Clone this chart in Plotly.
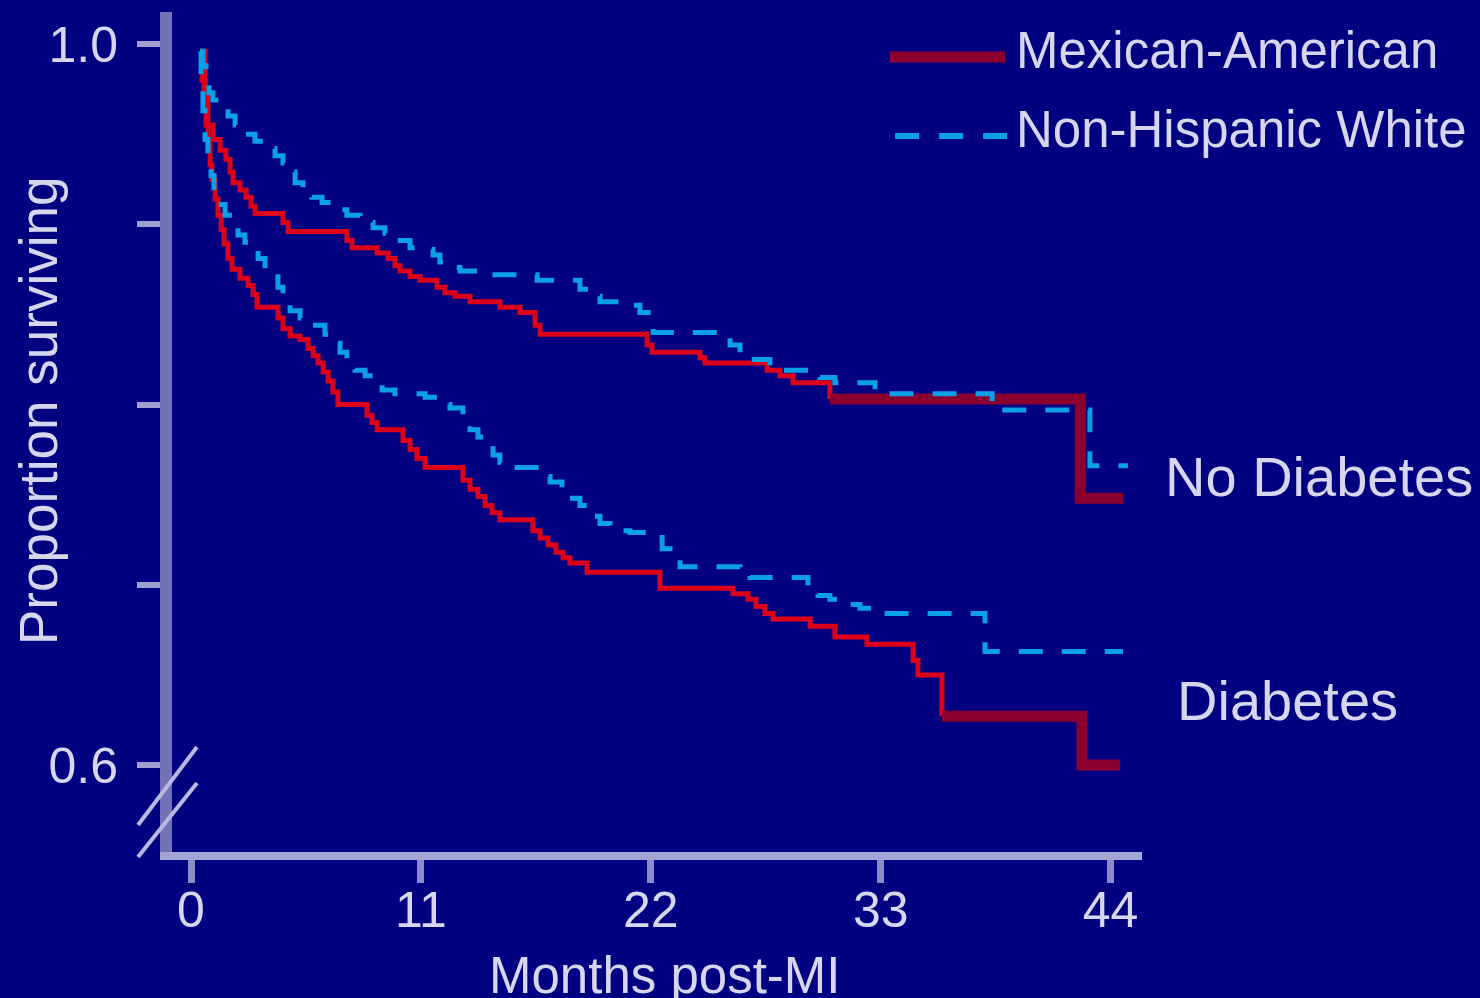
import plotly.graph_objects as go

# ---------------- data (months post-MI, proportion surviving) ----------------
ma_nodm_month = [0.43, 0.67, 0.81, 1.05, 1.39, 1.67, 1.87, 2.01, 2.34, 2.63, 2.87, 3.06,
                 4.40, 4.64, 7.46, 7.70, 8.90, 9.43, 9.76, 10.00, 10.48, 10.96, 11.77,
                 12.15, 12.63, 13.35, 14.78, 15.74, 16.46, 16.70, 21.82, 22.06, 24.35,
                 24.59, 27.56, 28.18, 28.80, 30.57, 42.54, 44.59]
ma_nodm_surv = [0.996, 0.975, 0.955, 0.947, 0.941, 0.936, 0.929, 0.923, 0.919, 0.915, 0.910,
                0.906, 0.901, 0.896, 0.891, 0.887, 0.884, 0.881, 0.877, 0.874, 0.871, 0.869,
                0.865, 0.862, 0.860, 0.857, 0.854, 0.851, 0.844, 0.839, 0.833, 0.829, 0.826,
                0.823, 0.819, 0.816, 0.812, 0.803, 0.748, 0.748]

nhw_nodm_month = [0.43, 0.57, 0.72, 0.86, 1.05, 1.39, 1.77, 2.11, 2.58, 3.06, 3.54, 4.02,
                  4.40, 4.64, 4.98, 5.36, 5.79, 6.27, 6.79, 7.46, 8.09, 8.71, 9.28, 9.86,
                  10.48, 11.29, 11.58, 11.91, 12.25, 12.87, 13.97, 16.56, 18.61, 19.09,
                  19.57, 20.53, 21.48, 22.11, 25.79, 26.27, 26.75, 27.70, 30.10, 30.81,
                  32.73, 38.33, 43.01, 44.83]
nhw_nodm_surv = [0.996, 0.988, 0.980, 0.973, 0.969, 0.965, 0.960, 0.955, 0.950, 0.946, 0.942,
                 0.938, 0.934, 0.929, 0.923, 0.918, 0.915, 0.912, 0.908, 0.905, 0.901, 0.898,
                 0.895, 0.891, 0.887, 0.886, 0.883, 0.879, 0.876, 0.874, 0.872, 0.869, 0.864,
                 0.860, 0.857, 0.855, 0.851, 0.840, 0.833, 0.829, 0.825, 0.819, 0.815, 0.812,
                 0.806, 0.797, 0.766, 0.766]

ma_dm_month = [0.43, 0.53, 0.62, 0.72, 0.81, 0.91, 1.00, 1.15, 1.29, 1.44, 1.58, 1.77, 1.96,
               2.34, 2.73, 2.97, 3.16, 4.16, 4.40, 4.74, 5.22, 5.60, 5.84, 6.08, 6.32, 6.56,
               6.79, 7.03, 8.42, 8.66, 8.90, 10.14, 10.48, 10.81, 11.20, 13.01, 13.35, 13.73,
               14.07, 14.40, 14.78, 16.36, 16.70, 17.08, 17.46, 17.80, 18.13, 18.95, 22.44,
               25.93, 26.65, 27.03, 27.46, 27.85, 29.62, 30.81, 32.34, 34.55, 34.78, 35.93,
               42.63, 44.45]
ma_dm_surv = [0.994, 0.980, 0.966, 0.955, 0.944, 0.933, 0.925, 0.914, 0.905, 0.897, 0.889,
              0.881, 0.875, 0.870, 0.866, 0.861, 0.854, 0.848, 0.842, 0.838, 0.836, 0.831,
              0.827, 0.823, 0.818, 0.813, 0.807, 0.800, 0.794, 0.790, 0.786, 0.780, 0.775,
              0.770, 0.765, 0.758, 0.753, 0.749, 0.744, 0.740, 0.736, 0.730, 0.726, 0.722,
              0.718, 0.715, 0.712, 0.707, 0.698, 0.695, 0.692, 0.688, 0.684, 0.681, 0.677,
              0.671, 0.667, 0.658, 0.650, 0.627, 0.600, 0.600]

nhw_dm_month = [0.43, 0.48, 0.57, 0.67, 0.81, 0.96, 1.10, 1.29, 1.63, 1.96, 2.25, 2.58, 2.92,
                3.21, 3.54, 3.88, 4.16, 4.40, 4.74, 5.22, 5.79, 6.41, 6.79, 7.13, 7.46, 7.85,
                8.33, 8.80, 9.14, 9.76, 11.20, 11.91, 12.39, 13.01, 13.35, 13.73, 14.07,
                14.45, 14.78, 15.26, 16.70, 17.18, 17.75, 18.13, 18.61, 19.23, 19.57, 20.05,
                21.00, 22.54, 22.92, 23.40, 26.27, 26.75, 29.52, 30.00, 30.57, 31.39, 32.01,
                32.58, 37.99, 44.59]
nhw_dm_surv = [0.996, 0.980, 0.963, 0.947, 0.938, 0.927, 0.918, 0.911, 0.905, 0.900, 0.894,
               0.890, 0.886, 0.881, 0.877, 0.873, 0.865, 0.860, 0.852, 0.848, 0.844, 0.839,
               0.834, 0.829, 0.824, 0.819, 0.816, 0.813, 0.808, 0.806, 0.804, 0.800, 0.798,
               0.790, 0.786, 0.782, 0.779, 0.772, 0.768, 0.765, 0.760, 0.757, 0.752, 0.748,
               0.744, 0.738, 0.734, 0.730, 0.729, 0.720, 0.715, 0.710, 0.707, 0.704, 0.698,
               0.694, 0.692, 0.689, 0.687, 0.684, 0.663, 0.663]

x_ticks = [0, 11, 22, 33, 44]
y_ticks = [0.6, 0.7, 0.8, 0.9, 1.0]
y_ticktext = ["0.6", "", "", "", "1.0"]

legend_names = ["Mexican-American", "Non-Hispanic White"]
group_labels = ["No Diabetes", "Diabetes"]
x_title = "Months post-MI"
y_title = "Proportion surviving"

# ---------------- style ----------------
W, H = 1480, 998
ML, MR, MT, MB = 172, 338, 12, 146
BG = "#000080"
TXT = "#d6d6ee"
RED_THIN = "#dc0018"
RED_THICK = "#8c0030"
BLUE = "#0aa0e6"
FONT = "Liberation Sans, Arial, sans-serif"
THICK_FROM = {"upper": 30.5, "lower": 35.9}   # month from which MA line is drawn heavy

PW, PH = W - ML - MR, H - MT - MB


def px(xp):
    return (xp - ML) / PW


def py(yp):
    return (MT + PH - yp) / PH


fig = go.Figure()


def add_ma(t, s, start):
    k = next(i for i, v in enumerate(t) if v >= start)
    fig.add_trace(go.Scatter(x=t[:k + 1], y=s[:k + 1], mode="lines",
                             line=dict(color=RED_THIN, width=5, shape="hv"),
                             showlegend=False, hoverinfo="skip"))
    fig.add_trace(go.Scatter(x=t[k:], y=s[k:], mode="lines",
                             line=dict(color=RED_THICK, width=11, shape="hv"),
                             showlegend=False, hoverinfo="skip"))


def add_nhw(t, s):
    fig.add_trace(go.Scatter(x=t, y=s, mode="lines",
                             line=dict(color=BLUE, width=5, shape="hv", dash="24px,19px"),
                             showlegend=False, hoverinfo="skip"))


add_ma(ma_nodm_month, ma_nodm_surv, THICK_FROM["upper"])
add_ma(ma_dm_month, ma_dm_surv, THICK_FROM["lower"])
add_nhw(nhw_nodm_month, nhw_nodm_surv)
add_nhw(nhw_dm_month, nhw_dm_surv)

x_lo = (ML - 191) / 20.9
x_hi = (W - MR - 191) / 20.9
y_hi = (1846.5 - MT) / 1802.5
y_lo = (1846.5 - (MT + PH)) / 1802.5

fig.update_layout(
    width=W, height=H,
    margin=dict(l=ML, r=MR, t=MT, b=MB),
    paper_bgcolor=BG, plot_bgcolor=BG,
    font=dict(family=FONT, color=TXT),
    showlegend=False,
    xaxis=dict(range=[x_lo, x_hi], tickvals=x_ticks, ticks="outside", ticklen=23,
               tickwidth=7, tickcolor="#8c8cc8", showline=True, linecolor="#a4a4d4",
               linewidth=8, showgrid=False, zeroline=False, ticklabelstandoff=-16,
               tickfont=dict(size=50, color=TXT, family=FONT)),
    yaxis=dict(range=[y_lo, y_hi], tickvals=y_ticks, ticktext=y_ticktext, ticks="outside",
               ticklen=23, tickwidth=6, tickcolor="#a0a0d0", showline=True,
               linecolor="#7272b8", linewidth=12, showgrid=False, zeroline=False,
               ticklabelstandoff=9, tickfont=dict(size=50, color=TXT, family=FONT)),
)

shapes = []
# axis break marks
for (x0, y0, x1, y1) in [(197, 747, 138, 825), (197, 783, 138, 857)]:
    shapes.append(dict(type="line", xref="paper", yref="paper", x0=px(x0), y0=py(y0),
                       x1=px(x1), y1=py(y1), line=dict(color="#b8b8e0", width=4)))
# legend samples
shapes.append(dict(type="line", xref="paper", yref="paper", x0=px(890), x1=px(1005),
                   y0=py(57), y1=py(57), line=dict(color=RED_THICK, width=11)))
shapes.append(dict(type="line", xref="paper", yref="paper", x0=px(895), x1=px(1008),
                   y0=py(136), y1=py(136), line=dict(color=BLUE, width=6, dash="24px,20px")))
fig.update_layout(shapes=shapes)

ann = [
    dict(text=legend_names[0], x=px(1014), y=py(51), xanchor="left", yanchor="middle",
         font=dict(size=51)),
    dict(text=legend_names[1], x=px(1014), y=py(130), xanchor="left", yanchor="middle",
         font=dict(size=51)),
    dict(text=group_labels[0], x=px(1163), y=py(476), xanchor="left", yanchor="middle",
         font=dict(size=56)),
    dict(text=group_labels[1], x=px(1175), y=py(700), xanchor="left", yanchor="middle",
         font=dict(size=56)),
    dict(text=y_title, x=px(38), y=py(411), xanchor="center", yanchor="middle",
         textangle=-90, font=dict(size=53)),
    dict(text=x_title, x=px(664), y=py(976), xanchor="center", yanchor="middle",
         font=dict(size=51)),
]
for a in ann:
    a.update(xref="paper", yref="paper", showarrow=False)
    a["font"].update(color=TXT, family=FONT)
fig.update_layout(annotations=ann)

fig.write_html("out.html")
